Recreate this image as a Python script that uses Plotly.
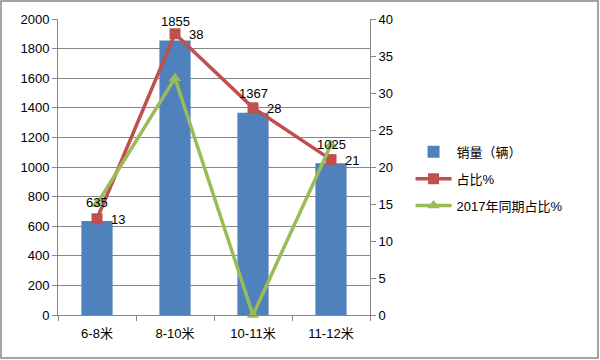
import plotly.graph_objects as go

categories = ["6-8米", "8-10米", "10-11米", "11-12米"]
sales = [635, 1855, 1367, 1025]
share = [13, 38, 28, 21]
share_2017 = [15, 32, 0, 23]

FONT = "Liberation Sans, Noto Sans CJK SC, sans-serif"

fig = go.Figure()
fig.add_trace(go.Bar(
    x=categories, y=sales, name="销量（辆）", legendgroup="a",
    marker=dict(color="#4F81BD", line=dict(color="#4F81BD", width=0)),
))
fig.add_trace(go.Scatter(
    x=categories, y=share, name="占比%", yaxis="y2", mode="lines+markers", legendgroup="b",
    line=dict(color="#C0504D", width=3.5),
    marker=dict(symbol="square", size=11, color="#C0504D"),
    cliponaxis=False,
))
fig.add_trace(go.Scatter(
    x=categories, y=share_2017, name="2017年同期占比%", yaxis="y2", mode="lines+markers", legendgroup="c",
    line=dict(color="#9BBB59", width=3.5),
    marker=dict(symbol="triangle-up", size=11, color="#9BBB59"),
    cliponaxis=False,
))

annotations = []
for c, v in zip(categories, sales):
    annotations.append(dict(x=c, y=v, xref="x", yref="y", text=str(v), showarrow=False,
                            yshift=19, font=dict(size=13, color="#000000")))
for c, v in zip(categories, share):
    annotations.append(dict(x=c, y=v, xref="x", yref="y2", text=str(v), showarrow=False,
                            xanchor="left", xshift=12, yshift=-1,
                            font=dict(size=13, color="#000000")))

fig.update_layout(
    width=600, height=360,
    margin=dict(l=58, r=230, t=19, b=45, autoexpand=False),
    paper_bgcolor="white", plot_bgcolor="white",
    font=dict(family=FONT, size=13, color="#000000"),
    bargap=0.6,
    showlegend=True,
    legend=dict(x=1.13, y=0.46, xanchor="left", yanchor="middle",
                font=dict(size=13), bgcolor="rgba(0,0,0,0)",
                traceorder="grouped", tracegroupgap=7, itemwidth=36),
    annotations=annotations,
    xaxis=dict(showline=True, linecolor="#868686", linewidth=1,
               ticks="outside", tickson="boundaries", ticklen=5, tickcolor="#868686",
               ticklabelstandoff=6,
               showgrid=False, tickfont=dict(size=13)),
    yaxis=dict(range=[0, 2000], dtick=200, showline=True, linecolor="#868686",
               ticks="outside", ticklen=5, tickcolor="#868686",
               gridcolor="#868686", gridwidth=1, zeroline=False,
               tickfont=dict(size=13)),
    yaxis2=dict(range=[0, 40], dtick=5, overlaying="y", side="right",
                showline=True, linecolor="#868686", ticks="outside", ticklen=5,
                tickcolor="#868686", showgrid=False, zeroline=False,
                tickfont=dict(size=13)),
    shapes=[dict(type="rect", xref="paper", yref="paper",
                 x0=-57/312, x1=(598-58)/312, y0=-(358-315)/296, y1=(315-1)/296,
                 line=dict(color="#868686", width=1.5), fillcolor="rgba(0,0,0,0)",
                 layer="below")],
)

fig.write_html("out.html", config={"displayModeBar": False},
               post_script="document.body.style.margin='0';document.body.style.overflow='hidden';")
